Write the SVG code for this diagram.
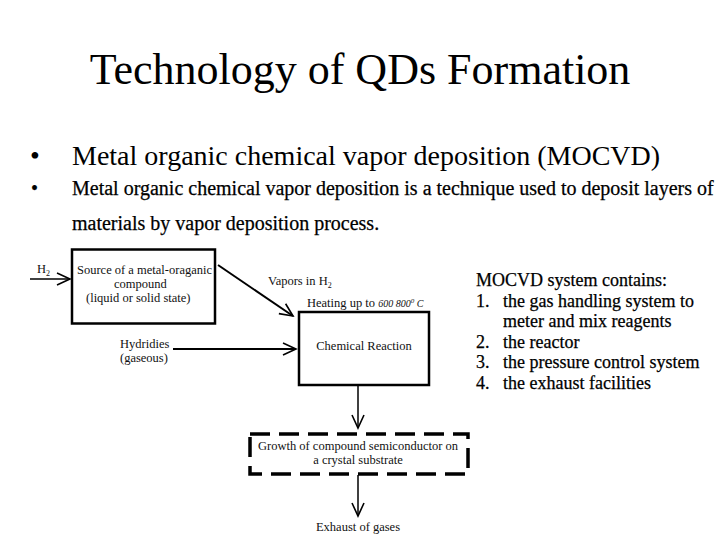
<svg xmlns="http://www.w3.org/2000/svg" width="720" height="540" viewBox="0 0 720 540">
<style>
.serif{font-family:"Liberation Serif","Times New Roman",serif;fill:#000}
.heavy{stroke:#000;stroke-width:0.25}
.small{font-family:"Liberation Serif","Times New Roman",serif;font-size:12.5px;fill:#111}
.box{fill:none;stroke:#000;stroke-width:2.5}
.dash{fill:none;stroke:#000;stroke-width:3.5;stroke-dasharray:20 9}
.conn{stroke:#000;fill:none}
</style>
<defs>
<marker id="ah" markerUnits="userSpaceOnUse" markerWidth="20" markerHeight="16" refX="14" refY="8" orient="auto" viewBox="0 0 20 16">
<path d="M1,2 L14,8 L1,14" fill="none" stroke="#000" stroke-width="1.6"/>
</marker>
</defs>
<rect width="720" height="540" fill="#fff"/>
<text class="serif" x="360" y="84" font-size="44" text-anchor="middle">Technology of QDs Formation</text>
<g id="bullets">
<text class="serif" x="30" y="165" font-size="28">•</text>
<text class="serif" x="72" y="165" font-size="28">Metal organic chemical vapor deposition (MOCVD)</text>
<text class="serif heavy" x="31" y="195" font-size="20">•</text>
<text class="serif heavy" x="72" y="195" font-size="20">Metal organic chemical vapor deposition is a technique used to deposit layers of</text>
<text class="serif heavy" x="72" y="230" font-size="20">materials by vapor deposition process.</text>
</g>
<g id="connectors">
<line class="conn" x1="30" y1="279" x2="70" y2="279" stroke-width="1.5" marker-end="url(#ah)"/>
<line class="conn" x1="218" y1="265" x2="293" y2="316" stroke-width="2" marker-end="url(#ah)"/>
<line class="conn" x1="173" y1="349" x2="296" y2="349" stroke-width="2" marker-end="url(#ah)"/>
<line class="conn" x1="358" y1="386" x2="358" y2="428" stroke-width="1.5" marker-end="url(#ah)"/>
<line class="conn" x1="358" y1="475" x2="358" y2="516" stroke-width="1.5" marker-end="url(#ah)"/>
</g>
<g id="h2-label">
<text class="small" x="37" y="273">H<tspan font-size="8" dy="3">2</tspan></text>
</g>
<g id="source">
<rect class="box" x="72" y="249.5" width="143" height="74"/>
<text class="small" x="77" y="274">Source of a metal-oraganic</text>
<text class="small" x="114" y="288">compound</text>
<text class="small" x="86" y="302">(liquid or solid state)</text>
</g>
<g id="vapors-label">
<text class="small" x="268" y="285">Vapors in H<tspan font-size="8" dy="3">2</tspan></text>
</g>
<g id="heating-label">
<text class="small" x="307" y="307">Heating up to <tspan font-size="10" font-style="italic">600 800<tspan font-size="7" dy="-4">0</tspan><tspan dy="4"> C</tspan></tspan></text>
</g>
<g id="reaction">
<rect class="box" x="299" y="312" width="130" height="73"/>
<text class="small" x="364" y="350" text-anchor="middle">Chemical Reaction</text>
</g>
<g id="hydridies">
<text class="small" x="120" y="348">Hydridies</text>
<text class="small" x="120" y="362">(gaseous)</text>
</g>
<g id="growth">
<rect class="dash" x="250" y="434" width="218" height="40"/>
<text class="small" x="358" y="450" text-anchor="middle">Growth of compound semiconductor on</text>
<text class="small" x="358" y="464" text-anchor="middle">a crystal substrate</text>
</g>
<g id="exhaust">
<text class="small" x="358" y="531" text-anchor="middle">Exhaust  of gases</text>
</g>
<g id="mocvd-list" class="serif heavy" font-size="18">
<text x="476" y="286">MOCVD system contains:</text>
<text x="476" y="306.5">1.</text>
<text x="503" y="306.5">the gas handling system to</text>
<text x="503" y="327">meter and mix reagents</text>
<text x="476" y="347.5">2.</text>
<text x="503" y="347.5">the reactor</text>
<text x="476" y="368">3.</text>
<text x="503" y="368">the pressure control system</text>
<text x="476" y="388.5">4.</text>
<text x="503" y="388.5">the exhaust facilities</text>
</g>
</svg>
